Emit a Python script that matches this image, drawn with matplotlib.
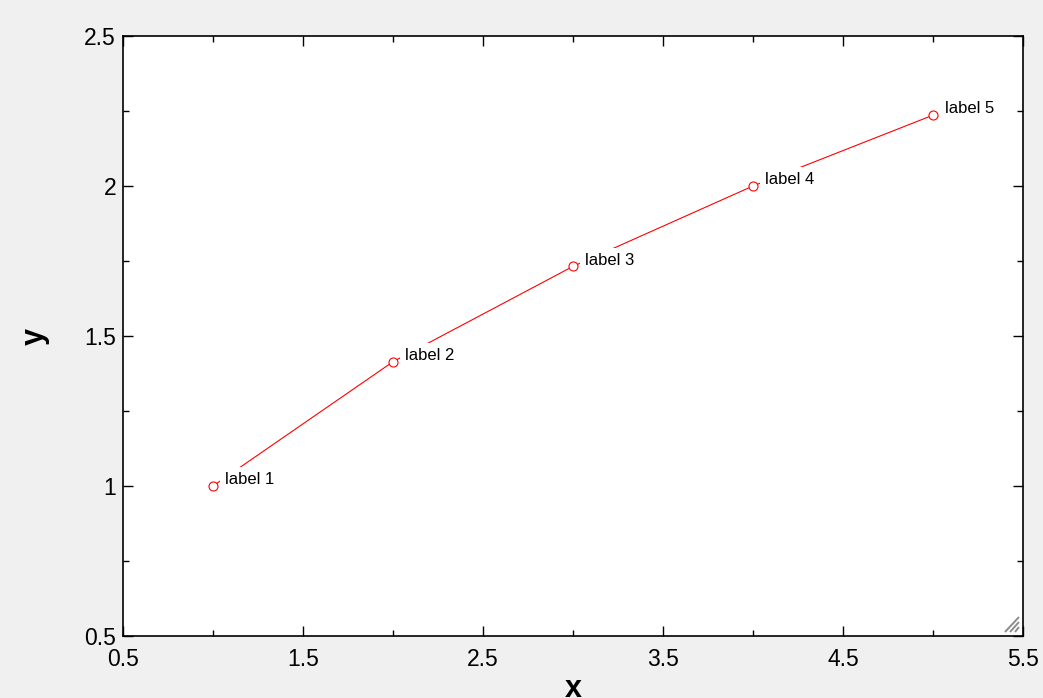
import numpy as np
import matplotlib
matplotlib.use('Agg')
import matplotlib.pyplot as plt
from matplotlib.ticker import MultipleLocator, FuncFormatter

# data points and their labels
xs = [1, 2, 3, 4, 5]
ys = [1.0, 1.4142, 1.7321, 2.0, 2.2361]
labels = ['label 1', 'label 2', 'label 3', 'label 4', 'label 5']

plt.rcParams['font.family'] = ['Liberation Sans', 'DejaVu Sans']

fig = plt.figure(figsize=(10.43, 6.98), dpi=100, facecolor='#f0f0f0')
ax = fig.add_axes([0.1179, 0.0888, 0.8629, 0.8596])
ax.set_facecolor('white')

ax.plot(xs, ys, color='red', lw=0.8, zorder=1)
for x, y, s in zip(xs, ys, labels):
    ax.annotate(s, (x, y), xytext=(8.5, 4.5), textcoords='offset points',
                fontsize=12, va='center', ha='left', zorder=2,
                bbox=dict(facecolor='white', edgecolor='none', pad=3.5))
ax.plot(xs, ys, ls='none', marker='o', ms=6.5, mfc='white', mec='red',
        mew=0.8, zorder=3)

ax.set_xlim(0.5, 5.5)
ax.set_ylim(0.5, 2.5)

def fmt(v, pos):
    return ('%g' % v)

ax.xaxis.set_major_locator(MultipleLocator(1.0, offset=0.5))
ax.xaxis.set_minor_locator(MultipleLocator(1.0))
ax.yaxis.set_major_locator(MultipleLocator(0.5))
ax.yaxis.set_minor_locator(MultipleLocator(0.25))
ax.xaxis.set_major_formatter(FuncFormatter(fmt))
ax.yaxis.set_major_formatter(FuncFormatter(fmt))

ax.tick_params(which='both', direction='in', top=True, right=True,
               width=1, colors='black')
ax.tick_params(which='major', length=7, labelsize=16.5)
ax.tick_params(axis='x', which='major', pad=8.5)
ax.tick_params(axis='y', which='major', pad=5)
ax.tick_params(which='minor', length=4)
for sp in ax.spines.values():
    sp.set_linewidth(1.2)

ax.set_xlabel('x', fontsize=22, fontweight='bold', labelpad=2)
ax.set_ylabel('y', fontsize=22, fontweight='bold', labelpad=25)

# little resize grip in the bottom right corner (///), in pixels of the axes box
W, H = 900.0, 600.0
for k in range(3):
    gx = [(1005 + 5 * k - 123) / W, (1019 - 123) / W]
    gy = [(636 - 632) / H, (636 - (617 + 5 * k)) / H]
    ax.plot(gx, gy, transform=ax.transAxes, color='#8c8c8c', lw=1.4,
            clip_on=False, solid_capstyle='butt', zorder=4)

fig.savefig('out.png', dpi=100, facecolor=fig.get_facecolor())
